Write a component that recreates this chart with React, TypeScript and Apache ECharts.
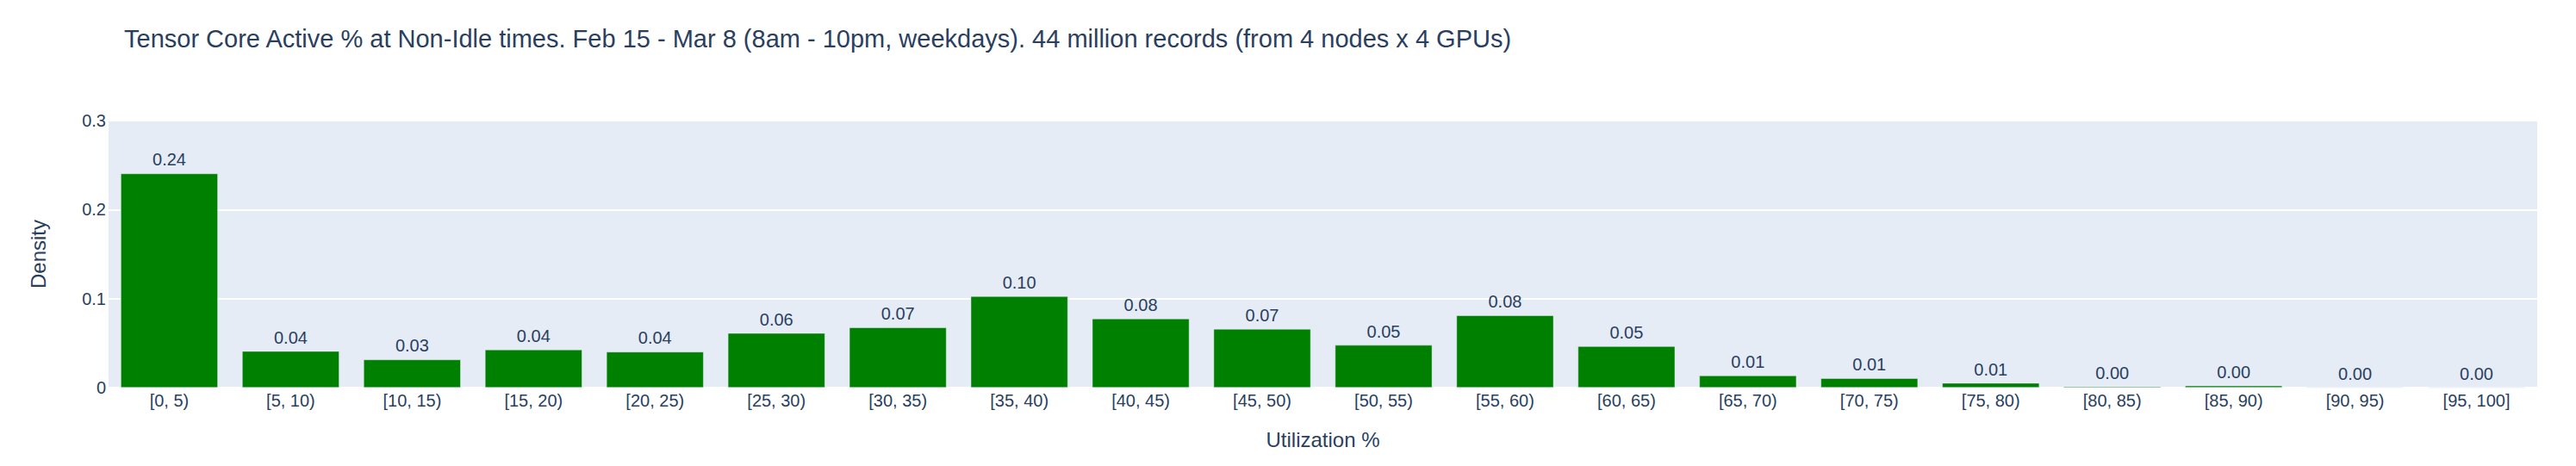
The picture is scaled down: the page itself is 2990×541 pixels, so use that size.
import React, { useEffect, useRef } from "react";
import * as echarts from "echarts";

const categories = [
  "[0, 5)", "[5, 10)", "[10, 15)", "[15, 20)", "[20, 25)",
  "[25, 30)", "[30, 35)", "[35, 40)", "[40, 45)", "[45, 50)",
  "[50, 55)", "[55, 60)", "[60, 65)", "[65, 70)", "[70, 75)",
  "[75, 80)", "[80, 85)", "[85, 90)", "[90, 95)", "[95, 100]",
];

const density = [
  0.2405, 0.041, 0.0315, 0.0427, 0.0402,
  0.0612, 0.0676, 0.1026, 0.0774, 0.0659,
  0.0478, 0.0811, 0.0464, 0.0135, 0.0105,
  0.0052, 0.0012, 0.0022, 0.0004, 0.0002,
];

const yTicks = [0, 0.1, 0.2, 0.3];

const titleText =
  "Tensor Core Active % at Non-Idle times. Feb 15 - Mar 8 (8am - 10pm, weekdays). 44 million records (from 4 nodes x 4 GPUs)";
const xTitle = "Utilization %";
const yTitle = "Density";

const FONT = '"Liberation Sans", Arial, sans-serif';
const TXT = "#2a3f5f";

export default function App() {
  const ref = useRef<HTMLDivElement>(null);

  useEffect(() => {
    if (!ref.current) return;
    const chart = echarts.init(ref.current, undefined, { renderer: "svg" });
    chart.setOption({
      animation: false,
      backgroundColor: "#ffffff",
      textStyle: { fontFamily: FONT, color: TXT },
      title: {
        text: titleText,
        left: 144,
        top: 30,
        padding: 0,
        textStyle: { fontFamily: FONT, fontSize: 29, fontWeight: "normal", color: TXT },
      },
      grid: {
        left: 126,
        right: 45,
        top: 140,
        bottom: 91,
        show: true,
        backgroundColor: "#E5ECF6",
        borderWidth: 0,
        containLabel: false,
      },
      xAxis: {
        type: "category",
        data: categories,
        name: xTitle,
        nameLocation: "middle",
        nameGap: 48,
        nameTextStyle: { fontFamily: FONT, fontSize: 24, color: TXT },
        axisLine: { show: true, lineStyle: { color: "#ffffff", width: 2 } },
        axisTick: { show: false },
        axisLabel: { fontFamily: FONT, fontSize: 20, color: TXT, margin: 5, interval: 0 },
        splitLine: { show: false },
      },
      yAxis: {
        type: "value",
        min: yTicks[0],
        max: yTicks[yTicks.length - 1],
        interval: 0.1,
        name: yTitle,
        nameLocation: "middle",
        nameGap: 70,
        nameRotate: 90,
        nameTextStyle: { fontFamily: FONT, fontSize: 24, color: TXT },
        axisLine: { show: false },
        axisTick: { show: false },
        axisLabel: {
          fontFamily: FONT,
          fontSize: 20,
          color: TXT,
          margin: 3,
          formatter: (v: number) => (v === 0 ? "0" : v.toFixed(1)),
        },
        splitLine: { show: true, lineStyle: { color: "#ffffff", width: 2 } },
      },
      series: [
        {
          type: "bar",
          data: density,
          barCategoryGap: "20%",
          itemStyle: { color: "#008000", borderColor: "#E5ECF6", borderWidth: 0.5 },
          label: {
            show: true,
            position: "top",
            distance: 6,
            fontFamily: FONT,
            fontSize: 20,
            color: TXT,
            formatter: (p: any) => Number(p.value).toFixed(2),
          },
        },
      ],
    });
    return () => chart.dispose();
  }, []);

  return (
    <div
      ref={ref}
      style={{ position: "absolute", left: 0, top: 0, width: 2990, height: 541 }}
    />
  );
}
